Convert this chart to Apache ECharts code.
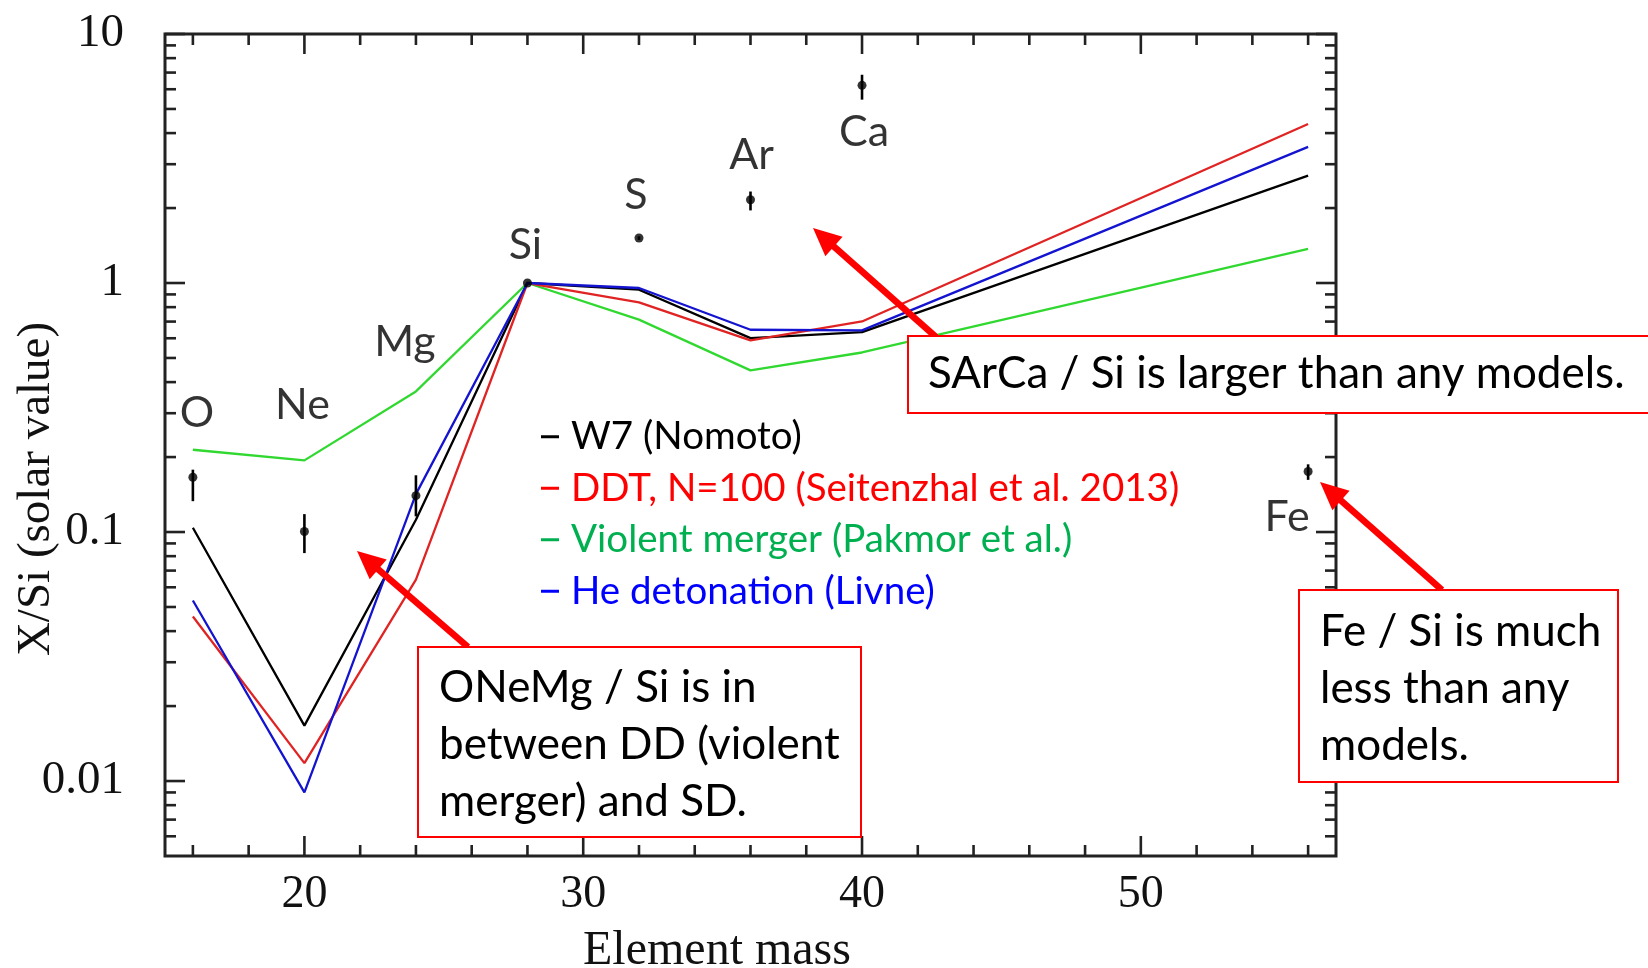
<!DOCTYPE html>
<html><head><meta charset="utf-8">
<script src="https://cdn.jsdelivr.net/npm/echarts@6/dist/echarts.min.js"></script>
<style>html,body{margin:0;padding:0;background:#fff}#c{width:1648px;height:968px}</style>
</head><body><div id="c"></div>
<script>
// ---------- data ----------
const elements = ['O', 'Ne', 'Mg', 'Si', 'S', 'Ar', 'Ca', 'Fe'];
const mass = [16, 20, 24, 28, 32, 36, 40, 56];
const obsValue = [0.166, 0.1005, 0.140, 1.0, 1.516, 2.16, 6.22, 0.175];
const obsLow   = [0.133, 0.0823, 0.1156, 1.0, 1.49, 1.957, 5.45, 0.162];
const obsHigh  = [0.178, 0.118, 0.169, 1.0, 1.54, 2.33, 6.86, 0.187];
const w7     = [0.104, 0.0167, 0.112, 1.0, 0.94, 0.601, 0.635, 2.70];
const ddt    = [0.0458, 0.0118, 0.0644, 1.0, 0.836, 0.588, 0.701, 4.35];
const merger = [0.214, 0.194, 0.367, 1.0, 0.713, 0.446, 0.526, 1.37];
const heDet  = [0.0531, 0.0090, 0.142, 1.0, 0.955, 0.649, 0.645, 3.52];
const seriesNames = ['W7 (Nomoto)', 'DDT, N=100 (Seitenzhal et al. 2013)', 'Violent merger (Pakmor et al.)', 'He detonation (Livne)'];
const xMajorTicks = [20, 30, 40, 50];
const xMinorTicks = [16, 18, 22, 24, 26, 28, 32, 34, 36, 38, 42, 44, 46, 48, 52, 54, 56];
const yMajorTicks = [0.01, 0.1, 1, 10];
const yTickLabels = ['0.01', '0.1', '1', '10'];
const yMinorTicks = [0.006, 0.007, 0.008, 0.009, 0.02, 0.03, 0.04, 0.05, 0.06, 0.07, 0.08, 0.09,
                     0.2, 0.3, 0.4, 0.5, 0.6, 0.7, 0.8, 0.9, 2, 3, 4, 5, 6, 7, 8, 9];
const xTitle = 'Element mass';
const yTitle = 'X/Si (solar value)';
const noteSArCa = 'SArCa / Si is larger than any models.';
const noteONeMg = 'ONeMg / Si is in\nbetween DD (violent\nmerger) and SD.';
const noteFe = 'Fe / Si is much\nless than any\nmodels.';

// ---------- layout / style ----------
const lineColors = ['#000000', '#e02424', '#30d830', '#1414d0'];
const legendColors = ['#000000', '#ff0000', '#00b050', '#0000ff'];
const labelOffsets = [[4, -64], [-2, -126], [-11, -154], [-2, -38], [-3, -43], [1, -45], [2, 47], [-21, 46]];
const serif = '"Liberation Serif", "DejaVu Serif", serif';
const sans = 'Lato, "Open Sans", sans-serif';

const chart = echarts.init(document.getElementById('c'), null, {renderer: 'canvas'});
const pairs = arr => mass.map((m, i) => [m, arr[i]]);
const modelData = [w7, ddt, merger, heDet];
const drawOrder = [2, 0, 1, 3];

const series = drawOrder.map(k => ({
  name: seriesNames[k], type: 'line', data: pairs(modelData[k]), showSymbol: false, symbol: 'none',
  lineStyle: {color: lineColors[k], width: 2.3}, itemStyle: {color: lineColors[k]}, z: 3
}));
series.push({
  type: 'custom', name: 'err', z: 5,
  data: mass.map((m, i) => [m, obsLow[i], obsHigh[i]]),
  encode: {x: 0, y: [1, 2]},
  renderItem: (params, api) => {
    const a = api.coord([api.value(0), api.value(1)]);
    const b = api.coord([api.value(0), api.value(2)]);
    return {type: 'line', shape: {x1: a[0], y1: a[1], x2: b[0], y2: b[1]}, style: {stroke: '#000', lineWidth: 2.6}};
  }
});
series.push({
  type: 'scatter', name: 'obs', z: 6, symbolSize: 9, itemStyle: {color: '#000'},
  data: mass.map((m, i) => ({value: [m, obsValue[i]], label: {offset: labelOffsets[i]}})),
  label: {show: true, position: 'inside', formatter: p => elements[p.dataIndex],
          fontFamily: sans, fontSize: 43, color: '#000'}
});

const option = {
  animation: false,
  backgroundColor: '#fff',
  grid: {left: 165, top: 34, right: 312, bottom: 112, show: true, borderColor: '#222', borderWidth: 3},
  xAxis: {
    type: 'value', min: 15, max: 57, interval: 5,
    axisLine: {show: false}, axisTick: {show: false}, splitLine: {show: false},
    axisLabel: {formatter: v => xMajorTicks.includes(v) ? String(v) : '', fontFamily: serif, fontSize: 46, color: '#111', margin: 16}
  },
  yAxis: {
    type: 'log', logBase: 10, min: 0.005, max: 10,
    axisLine: {show: false}, axisTick: {show: false}, splitLine: {show: false},
    axisLabel: {
      formatter: v => {
        const i = yMajorTicks.findIndex(t => Math.abs(Math.log10(t) - Math.log10(v)) < 1e-6);
        return i >= 0 ? yTickLabels[i] : '';
      },
      fontFamily: serif, fontSize: 47, color: '#111', margin: 41
    }
  },
  legend: {
    orient: 'vertical', left: 536, top: 406, itemWidth: 18, itemHeight: 3, itemGap: 0, icon: 'rect',
    selectedMode: false,
    textStyle: {fontFamily: sans, fontSize: 38.5, lineHeight: 51.5, padding: [0, 0, 0, 7]},
    data: seriesNames.map((n, i) => ({name: n, textStyle: {color: legendColors[i]}, itemStyle: {color: legendColors[i], borderWidth: 0}}))
  },
  series: series
};
chart.setOption(option);

// ---------- frame ticks (through the chart's own scales) ----------
const px = (x, y) => chart.convertToPixel({gridIndex: 0}, [x, y]);
const [gl, gb] = px(15, 0.005);
const [gr, gt] = px(57, 10);
const g = [];
const tickStyle = {stroke: '#222', lineWidth: 2.6};
function xt(v, len) {
  const x = px(v, 1)[0];
  g.push({type: 'line', z: 50, shape: {x1: x, y1: gb, x2: x, y2: gb - len}, style: tickStyle});
  g.push({type: 'line', z: 50, shape: {x1: x, y1: gt, x2: x, y2: gt + len}, style: tickStyle});
}
function yt(v, len) {
  const y = px(20, v)[1];
  g.push({type: 'line', z: 50, shape: {x1: gl, y1: y, x2: gl + len, y2: y}, style: tickStyle});
  g.push({type: 'line', z: 50, shape: {x1: gr, y1: y, x2: gr - len, y2: y}, style: tickStyle});
}
xMajorTicks.forEach(v => xt(v, 20));
xMinorTicks.forEach(v => xt(v, 11));
yMajorTicks.forEach(v => yt(v, 20));
yMinorTicks.forEach(v => yt(v, 11));

// ---------- axis titles ----------
g.push({type: 'text', z: 60, x: 37, y: 489, rotation: Math.PI / 2,
  style: {text: yTitle, font: '47px ' + serif, fill: '#111', align: 'center', verticalAlign: 'middle', textAlign: 'center', textVerticalAlign: 'middle'}});
g.push({type: 'text', z: 60, x: 717, y: 951,
  style: {text: xTitle, font: '48px ' + serif, fill: '#111', align: 'center', verticalAlign: 'middle', textAlign: 'center', textVerticalAlign: 'middle'}});

// ---------- annotation arrows ----------
function arrow(x1, y1, x2, y2) {
  const dx = x2 - x1, dy = y2 - y1, L = Math.hypot(dx, dy);
  const ux = dx / L, uy = dy / L, hl = 28, hw = 13;
  const bx = x2 - ux * hl, by = y2 - uy * hl;
  g.push({type: 'line', z: 90, shape: {x1: x1, y1: y1, x2: bx + ux * 2, y2: by + uy * 2}, style: {stroke: '#ff0000', lineWidth: 6.5}});
  g.push({type: 'polygon', z: 90, shape: {points: [[x2, y2], [bx - uy * hw, by + ux * hw], [bx + uy * hw, by - ux * hw]]}, style: {fill: '#ff0000'}});
}
arrow(936, 337, 813, 228);
arrow(468, 647, 357, 551);
arrow(1442, 590, 1320, 482);

// ---------- annotation boxes ----------
function box(x, y, w, h) {
  g.push({type: 'rect', z: 100, shape: {x: x, y: y, width: w, height: h}, style: {fill: '#fff', stroke: '#ff0000', lineWidth: 2}});
}
function note(text, x, y) {
  g.push({type: 'text', z: 101, x: x, y: y,
    style: {text: text, font: '44px ' + sans, fill: '#000', lineHeight: 57, align: 'left', verticalAlign: 'top', textAlign: 'left', textVerticalAlign: 'top'}});
}
box(908, 336, 760, 77);
note(noteSArCa, 928, 374 - 28.5);
box(418, 647, 443, 190);
note(noteONeMg, 439, 688 - 28.5);
box(1299, 590, 319, 192);
note(noteFe, 1320, 632 - 28.5);

chart.setOption({graphic: {elements: g}});
</script>
</body></html>
